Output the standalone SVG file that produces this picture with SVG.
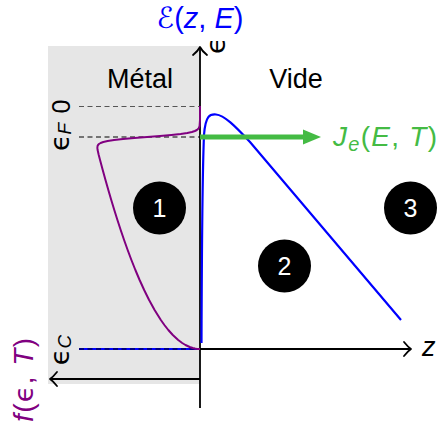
<svg xmlns="http://www.w3.org/2000/svg" width="438" height="421" viewBox="0 0 438 421">
<style>
.ax{stroke:#000;stroke-width:1.8;fill:none}
.hd{stroke:#000;stroke-width:1.8;fill:none;stroke-linecap:round;stroke-linejoin:round}
.dash{stroke-width:1.2;stroke-dasharray:5 3.5;fill:none}
.t{font-family:"Liberation Sans","DejaVu Sans",sans-serif}
.it{font-style:italic}
.eps{font-family:"DejaVu Sans",sans-serif;font-size:27px;font-weight:normal}
.num{font-family:"Liberation Sans","DejaVu Sans",sans-serif;font-size:25px;fill:#fff;text-anchor:middle}
</style>
<rect id="metal" x="48" y="46" width="152" height="338" fill="#e6e6e6"/>
<g id="labels-region" class="t" font-size="27">
<text x="140" y="88" text-anchor="middle">Métal</text>
<text x="296" y="88" text-anchor="middle">Vide</text>
</g>
<g id="connectors">
<line class="dash" x1="79" y1="106.5" x2="200" y2="106.5" stroke="#555"/>
<line class="dash" x1="79" y1="137" x2="200" y2="137" stroke="#000"/>
<line x1="79" y1="349" x2="200" y2="349" stroke="#0000ff" stroke-width="2.2"/>
<line class="dash" x1="79" y1="349" x2="200" y2="349" stroke="#000" stroke-width="0.9"/>
<line class="ax" x1="200" y1="408" x2="200" y2="48"/>
<path class="hd" d="M193,55 Q198,51 200,47 Q202,51 207,55"/>
<line class="ax" x1="200" y1="349" x2="410" y2="349"/>
<path class="hd" d="M404,342 Q408,347 411,349 Q408,351 404,356"/>
<line class="ax" x1="200" y1="379" x2="51" y2="379"/>
<path class="hd" d="M57,372 Q53,377 50,379 Q53,381 57,386"/>
<path id="barrier" d="M201.5,343 C201.8,250 202.5,170 204,135 C205.5,115 210,114 216,114.5 C224,115 235,126 250,142 L401,320" fill="none" stroke="#0000ff" stroke-width="2.2"/>
<polyline id="fermi" fill="none" stroke="#800080" stroke-width="2" stroke-linejoin="round" points="200,106 200,120 199.56,126 198.8,128 198.06,129 196.84,130 194.9,131 191.9,132 187.3,133 180.55,134 171.4,135 159.95,136 147.1,137 134.3,138 123,139 114.1,140 107.65,141 103.3,142 100.6,143 98.95,144 98.05,145 97.55,146 97.35,148 97.6,150 98.74,155 100.05,160 102.73,170 105.49,180 108.33,190 111.26,200 114.29,210 117.43,220 120.69,230 124.1,240 127.66,250 131.41,260 135.38,270 139.61,280 144.16,290 149.11,300 154.6,310 160.85,320 164.4,325 168.31,330 172.8,335 178.19,340 182.19,343 185.46,345 189.72,347 192.73,348 194.86,348.5 196.4,348.75 197.7,348.9 200,349"/>
<line x1="200" y1="137" x2="306" y2="137" stroke="#44bb44" stroke-width="5"/>
<polygon points="321,137 303,129.5 303,144.5" fill="#44bb44"/>
</g>
<g id="axis-labels" class="t">
<text x="200" y="28" font-size="29" fill="#0000ff" text-anchor="middle"><tspan font-family="DejaVu Sans,sans-serif" class="it">ℰ</tspan>(<tspan class="it">z</tspan>, <tspan class="it">E</tspan>)</text>
<text transform="translate(225,54) rotate(-90)" class="eps">ϵ</text>
<text x="422" y="356" font-size="27" class="it">z</text>
<text transform="translate(70,106.5) rotate(-90)" font-size="25" text-anchor="middle">0</text>
<text transform="translate(69,137) rotate(-90)" font-size="25" text-anchor="middle"><tspan class="eps">ϵ</tspan><tspan class="it" font-size="19" dy="2">F</tspan></text>
<text transform="translate(69,350) rotate(-90)" font-size="25" text-anchor="middle"><tspan class="eps">ϵ</tspan><tspan class="it" font-size="19" dy="2">C</tspan></text>
<text transform="translate(33,380) rotate(-90)" font-size="28" fill="#800080" text-anchor="middle" textLength="84" lengthAdjust="spacing"><tspan class="it">f</tspan>(<tspan class="eps">ϵ</tspan>, <tspan class="it">T</tspan>)</text>
<text x="333" y="146" font-size="28" fill="#44bb44" textLength="104" lengthAdjust="spacing"><tspan class="it">J</tspan><tspan class="it" font-size="20" dy="5">e</tspan><tspan dy="-5">(</tspan><tspan class="it">E</tspan>, <tspan class="it">T</tspan>)</text>
</g>
<g id="node-1"><circle cx="159.5" cy="208" r="26.5"/><text class="num" x="159.5" y="217">1</text></g>
<g id="node-2"><circle cx="284.5" cy="266" r="26.5"/><text class="num" x="284.5" y="275">2</text></g>
<g id="node-3"><circle cx="410.5" cy="208" r="26.5"/><text class="num" x="410.5" y="217">3</text></g>
</svg>
